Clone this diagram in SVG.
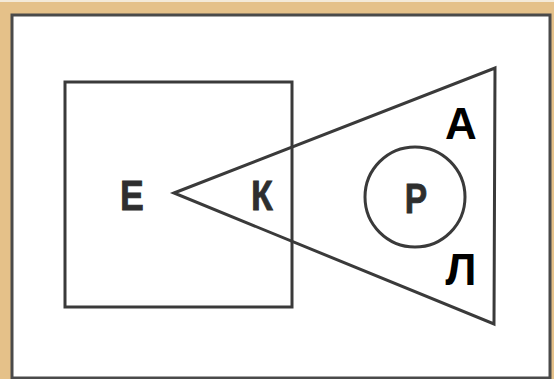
<svg xmlns="http://www.w3.org/2000/svg" width="554" height="379" viewBox="0 0 554 379">
  <style>
    .shape { fill: none; stroke: #3a3a3a; stroke-width: 3; stroke-linejoin: miter; }
    .lbl { font-family: "Liberation Sans", Arial, sans-serif; font-weight: bold; text-anchor: middle; }
    .gray { fill: #2e2e2e; stroke: #2e2e2e; stroke-width: 0.8; font-size: 42px; }
    .black { fill: #000000; font-size: 44px; }
  </style>
  <rect x="0" y="0" width="554" height="379" fill="#e5c189"/>
  <rect x="0" y="0" width="554" height="2" fill="#f4ead8"/>
  <rect x="12" y="15" width="538" height="363" fill="#ffffff" stroke="#4a4a4a" stroke-width="3"/>
  <g id="set-E">
    <rect class="shape" x="65" y="82" width="227" height="225"/>
    <text class="lbl gray" transform="translate(132,210) scale(0.85,1)">Е</text>
  </g>
  <g id="set-K">
    <polygon class="shape" points="174,193 495,68 494,324"/>
    <text class="lbl gray" transform="translate(262,210) scale(0.85,1)">К</text>
  </g>
  <g id="set-P">
    <circle class="shape" cx="415" cy="197" r="50" stroke-width="2.5"/>
    <text class="lbl gray" transform="translate(416,213) scale(0.8,1)">Р</text>
  </g>
  <g id="label-A">
    <text class="lbl black" x="461" y="139">А</text>
  </g>
  <g id="label-L">
    <text class="lbl black" x="461" y="285">Л</text>
  </g>
  <g id="connectors"></g>
</svg>
